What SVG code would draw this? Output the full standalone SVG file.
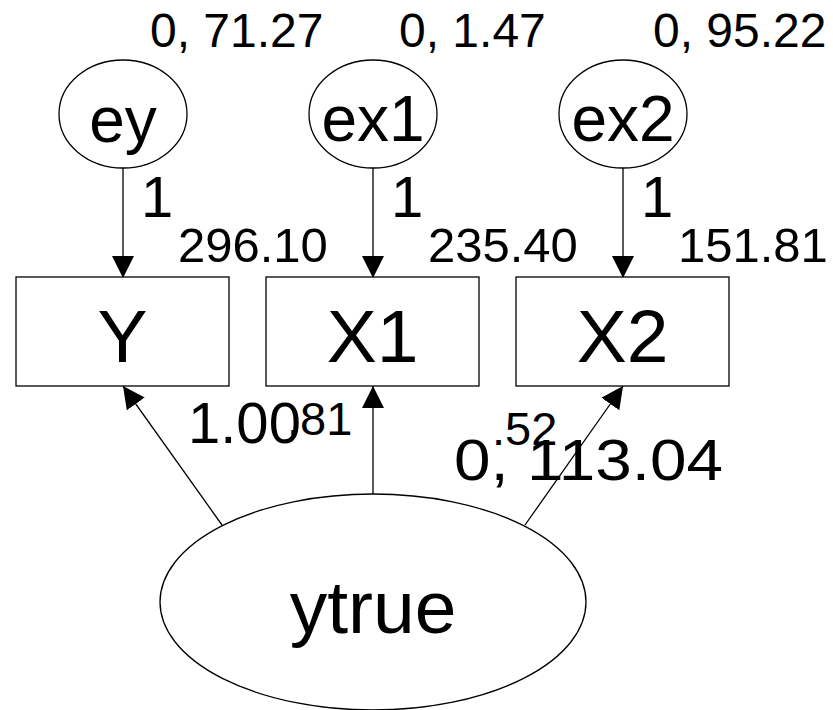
<svg xmlns="http://www.w3.org/2000/svg" width="833" height="710" viewBox="0 0 833 710">
  <defs>
    <marker id="arrow" markerWidth="22" markerHeight="22" refX="22" refY="11" orient="auto" markerUnits="userSpaceOnUse">
      <path d="M0,0 L22,11 L0,22 z" fill="#000"/>
    </marker>
    <style>
      .shape { fill: #fff; stroke: #000; stroke-width: 1.3; }
      .edge { fill: none; stroke: #000; stroke-width: 1.3; marker-end: url(#arrow); }
      text { font-family: "Liberation Sans", Arial, sans-serif; fill: #000; }
      .big { font-size: 75px; text-anchor: middle; }
      .err { font-size: 64px; text-anchor: middle; }
      .var { font-size: 48px; }
      .val { font-size: 49px; }
      .coef { font-size: 47px; }
      .one { font-size: 58px; }
    </style>
  </defs>
  <rect width="833" height="710" fill="#fff"/>

  <!-- paths: errors to indicators, latent to indicators -->
  <g id="connectors">
    <line class="edge" x1="123" y1="168" x2="123" y2="278"/>
    <line class="edge" x1="373" y1="168" x2="373" y2="278"/>
    <line class="edge" x1="623" y1="168" x2="623" y2="278"/>
    <line class="edge" x1="222" y1="525" x2="123" y2="386"/>
    <line class="edge" x1="373" y1="494" x2="373" y2="386"/>
    <line class="edge" x1="525" y1="525" x2="623" y2="386"/>
  </g>

  <!-- error terms with mean, variance -->
  <g id="ey">
    <ellipse class="shape" cx="123" cy="114" rx="64" ry="54"/>
    <text class="err" x="123" y="142">ey</text>
    <text class="var" x="150" y="47">0, 71.27</text>
  </g>
  <g id="ex1">
    <ellipse class="shape" cx="373" cy="114" rx="64" ry="54"/>
    <text class="err" x="373" y="141">ex1</text>
    <text class="var" x="399" y="47">0, 1.47</text>
  </g>
  <g id="ex2">
    <ellipse class="shape" cx="623" cy="114" rx="64" ry="54"/>
    <text class="err" x="623" y="141">ex2</text>
    <text class="var" x="653" y="47">0, 95.22</text>
  </g>

  <!-- observed indicators with intercepts -->
  <g id="Y">
    <rect class="shape" x="16" y="277" width="213" height="109"/>
    <text class="big" x="122.5" y="362">Y</text>
    <text class="val" x="178" y="262">296.10</text>
  </g>
  <g id="X1">
    <rect class="shape" x="266" y="277" width="213" height="109"/>
    <text class="big" x="372.5" y="362">X1</text>
    <text class="val" x="428" y="262">235.40</text>
  </g>
  <g id="X2">
    <rect class="shape" x="516" y="277" width="213" height="109"/>
    <text class="big" x="622.5" y="362">X2</text>
    <text class="val" x="678" y="262">151.81</text>
  </g>

  <!-- latent variable -->
  <g id="ytrue">
    <ellipse class="shape" cx="373" cy="602" rx="213" ry="108"/>
    <text class="big" x="373" y="633">ytrue</text>
    <text class="one" x="454" y="480" textLength="269" lengthAdjust="spacingAndGlyphs">0, 113.04</text>
  </g>

  <!-- path coefficients -->
  <g id="coefficients">
    <text class="one" x="141" y="217">1</text>
    <text class="one" x="391" y="217">1</text>
    <text class="one" x="641" y="217">1</text>
    <text class="one" x="188" y="443">1.00</text>
    <text class="coef" x="287" y="435">.81</text>
    <text class="coef" x="492" y="445">.52</text>
  </g>
</svg>
